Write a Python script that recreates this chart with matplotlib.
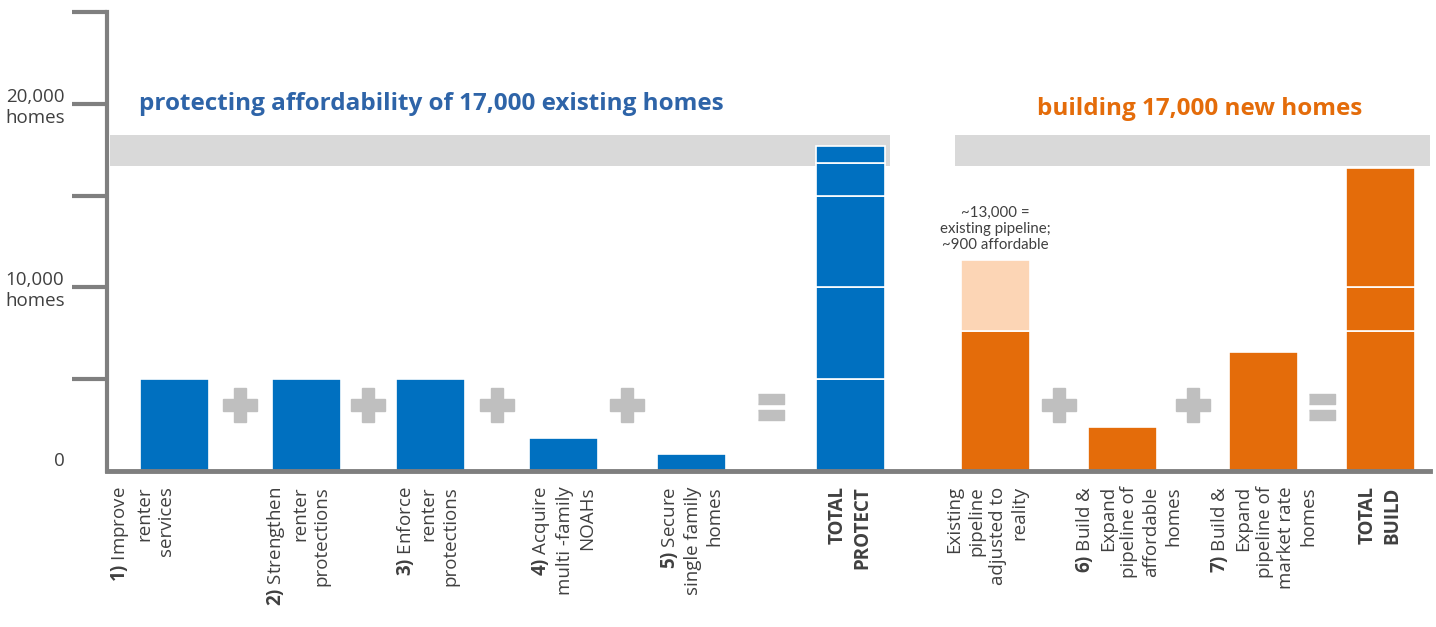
import matplotlib
matplotlib.use('Agg')
import matplotlib.pyplot as plt

plt.rcParams['font.family'] = ['Open Sans', 'DejaVu Sans']
plt.rcParams['mathtext.fontset'] = 'custom'
plt.rcParams['mathtext.rm'] = 'Open Sans'
plt.rcParams['mathtext.bf'] = 'Open Sans:bold'

# --- data ---
protect_labels = [r"$\mathbf{1)}$ Improve" + "\nrenter\nservices",
                  r"$\mathbf{2)}$ Strengthen" + "\nrenter\nprotections",
                  r"$\mathbf{3)}$ Enforce" + "\nrenter\nprotections",
                  r"$\mathbf{4)}$ Acquire" + "\nmulti -family\nNOAHs",
                  r"$\mathbf{5)}$ Secure" + "\nsingle family\nhomes"]
protect_vals = [5000, 5000, 5000, 1800, 900]

pipeline_label = "Existing\npipeline\nadjusted to\nreality"
pipeline_adjusted = 7600
pipeline_extra = 3900   # rest of ~13,000 pipeline, shown light

build_labels = [r"$\mathbf{6)}$ Build &" + "\nExpand\npipeline of\naffordable\nhomes",
                r"$\mathbf{7)}$ Build &" + "\nExpand\npipeline of\nmarket rate\nhomes"]
build_vals = [2400, 6500]

target_band = [16600, 18300]

yticks = [5000, 10000, 15000, 20000, 25000]
ytick_labels = ['', '10,000\nhomes', '', '20,000\nhomes', '']

# --- layout ---
W, H = 1436, 627
x_protect = [174, 306, 430, 563, 691]
x_total_protect = 850
x_pipeline = 995
x_build = [1122, 1263]
x_total_build = 1380
bar_w = 69

blue = '#0070c0'
orange = '#e46c0a'
light_orange = '#fcd5b5'
grey = '#7f7f7f'
op_grey = '#bfbfbf'
txt = '#404040'

fig = plt.figure(figsize=(W / 100, H / 100), dpi=100)
ax = fig.add_axes([107 / W, (H - 471) / H, (1430 - 107) / W, (471 - 12) / H])
ax.set_xlim(107, 1430)
ax.set_ylim(0, 25000)

# target bands
ax.fill_between([110, 890], target_band[0], target_band[1], color='#d9d9d9', lw=0, zorder=0)
ax.fill_between([955, 1430], target_band[0], target_band[1], color='#d9d9d9', lw=0, zorder=0)

edge = dict(edgecolor='white', linewidth=1.2, zorder=2)

# protect bars
ax.bar(x_protect, protect_vals, width=bar_w, color=blue, **edge)
bottom = 0
for v in protect_vals:
    ax.bar(x_total_protect, v, bottom=bottom, width=bar_w, color=blue, **edge)
    bottom += v

# build bars
ax.bar(x_pipeline, pipeline_adjusted, width=bar_w, color=orange, **edge)
ax.bar(x_pipeline, pipeline_extra, bottom=pipeline_adjusted, width=bar_w, color=light_orange, **edge)
ax.bar(x_build, build_vals, width=bar_w, color=orange, **edge)
bottom = 0
for v in [pipeline_adjusted] + build_vals:
    ax.bar(x_total_build, v, bottom=bottom, width=bar_w, color=orange, **edge)
    bottom += v

# operators between bars
xs = x_protect + [x_total_protect, x_pipeline] + x_build + [x_total_build]
ops = ['+', '+', '+', '+', '=', '', '+', '+', '=']
tr = ax.get_xaxis_transform()
eq_marker = [(-1.25, -0.5), (1.25, -0.5), (1.25, 0.5), (-1.25, 0.5)]
for i, op in enumerate(ops):
    xm = (xs[i] + xs[i + 1]) / 2
    if op == '+':
        ax.plot([xm], [0.144], marker='P', ms=25, color=op_grey, mec=op_grey,
                ls='none', transform=tr, clip_on=False, zorder=3)
    elif op == '=':
        ax.plot([xm, xm], [0.157, 0.123], marker=eq_marker, ms=19, color=op_grey,
                mec=op_grey, ls='none', transform=tr, clip_on=False, zorder=3)

# titles
ax.text(139, 20000, 'protecting affordability of 17,000 existing homes', color='#2e64a8',
        fontsize=17.5, fontweight='bold', va='center', ha='left')
ax.text(1037, 19700, 'building 17,000 new homes', color=orange,
        fontsize=17.5, fontweight='bold', va='center', ha='left')
ax.text(x_pipeline, 13200, '~13,000 =\nexisting pipeline;\n~900 affordable', color=txt,
        fontsize=10.8, family='Lato', ha='center', va='center', linespacing=1.2)

# x labels (first one sits a bit left of its bar in the original)
all_labels = protect_labels + ['TOTAL\nPROTECT', pipeline_label] + build_labels + ['TOTAL\nBUILD']
label_shift = [-32, -8, -3, 0, 0, 0, -8, 6, 0, 0]
for xl, lab, dx in zip(xs, all_labels, label_shift):
    bold = lab.startswith('TOTAL')
    ax.annotate(lab, xy=(xl + dx, 0), xycoords=tr, xytext=(0, -11), textcoords='offset points',
                rotation=90, ha='center', va='top', multialignment='right',
                fontsize=13.5, color=txt, linespacing=1.27,
                fontweight='bold' if bold else 'normal', annotation_clip=False)

# axes styling
for s in ['top', 'right']:
    ax.spines[s].set_visible(False)
ax.spines['left'].set_color(grey)
ax.spines['left'].set_linewidth(3)
ax.spines['bottom'].set_color(grey)
ax.spines['bottom'].set_linewidth(3.5)
ax.set_xticks([])
ax.set_yticks(yticks)
ax.set_yticklabels(ytick_labels, multialignment='left')
ax.tick_params(axis='y', length=25, width=3, color=grey, pad=5, labelsize=13.5, labelcolor=txt)
ax.annotate('0', xy=(0, 0), xycoords='axes fraction', xytext=(-34, 7), textcoords='offset points',
            ha='center', va='center', fontsize=13.5, color=txt)

fig.savefig('out.png', dpi=100)
